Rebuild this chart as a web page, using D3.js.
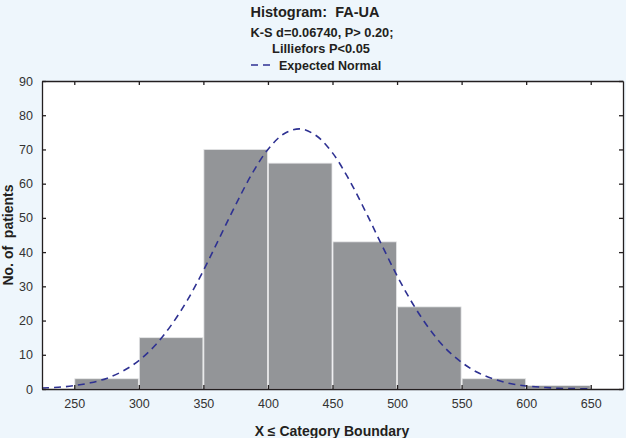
<!DOCTYPE html>
<html lang="en">
<head>
  <meta charset="utf-8">
  <title>Histogram: FA-UA</title>
  <script src="https://d3js.org/d3.v7.min.js"></script>
  <style>
    body { margin: 0; background: #eef6fc; }
    svg { display: block; font-family: "Liberation Sans", Arial, sans-serif; }
  </style>
</head>
<body>
<div id="chart"></div>
<script>
// bin edges (X <= category boundary) and counts
var binStart = [250, 300, 350, 400, 450, 500, 550, 600];
var binEnd   = [300, 350, 400, 450, 500, 550, 600, 650];
var counts   = [3, 15, 70, 66, 43, 24, 3, 1];

// expected normal curve
var curveX = [225, 237.5, 250, 262.5, 275, 287.5, 300, 312.5, 325, 337.5, 350, 362.5, 375, 387.5,
              400, 412.5, 425, 437.5, 450, 462.5, 475, 487.5, 500, 512.5, 525, 537.5, 550, 562.5,
              575, 587.5, 600, 612.5, 625, 637.5, 650];
var curveY = [0.3, 0.5, 1.0, 1.8, 3.1, 5.2, 8.3, 12.7, 18.6, 25.9, 34.6, 44.2, 53.8, 62.8,
              70.0, 74.6, 76.0, 74.0, 69.0, 61.4, 52.3, 42.6, 33.1, 24.7, 17.6, 11.9, 7.8, 4.8,
              2.9, 1.6, 0.9, 0.5, 0.2, 0.1, 0.05];

var xTicks = [250, 300, 350, 400, 450, 500, 550, 600, 650];
var yTicks = [0, 10, 20, 30, 40, 50, 60, 70, 80, 90];

var W = 626, H = 438;
var margin = {top: 81, right: 3, bottom: 49, left: 42};
var width = W - margin.left - margin.right,
    height = H - margin.top - margin.bottom;

var svg = d3.select("#chart").append("svg")
  .attr("width", W)
  .attr("height", H);

// titles
var ink = "#231f20";
svg.append("text").attr("x", 315).attr("y", 17).attr("text-anchor", "middle")
  .attr("font-weight", "bold").attr("font-size", 14.5).attr("fill", ink)
  .attr("xml:space", "preserve").text("Histogram:  FA-UA");
svg.append("text").attr("x", 322).attr("y", 37).attr("text-anchor", "middle")
  .attr("font-weight", "bold").attr("font-size", 12.8).attr("fill", ink)
  .text("K-S d=0.06740, P> 0.20;");
svg.append("text").attr("x", 321).attr("y", 53).attr("text-anchor", "middle")
  .attr("font-weight", "bold").attr("font-size", 12.8).attr("fill", ink)
  .text("Lilliefors P<0.05");

// legend
svg.append("line").attr("x1", 251).attr("x2", 272).attr("y1", 65).attr("y2", 65)
  .attr("stroke", "#2e3192").attr("stroke-width", 1.6).attr("stroke-dasharray", "7,5");
svg.append("text").attr("x", 279).attr("y", 69.5)
  .attr("font-weight", "bold").attr("font-size", 12.5).attr("fill", ink)
  .text("Expected Normal");

var g = svg.append("g").attr("transform", "translate(" + margin.left + "," + margin.top + ")");

var x = d3.scaleLinear().domain([225, 675]).range([0, width]);
var y = d3.scaleLinear().domain([0, 90]).range([height, 0]);

g.append("rect").attr("width", width).attr("height", height).attr("fill", "#fff");

g.append("defs").append("clipPath").attr("id", "clip")
  .append("rect").attr("width", width).attr("height", height);

// bars
g.selectAll(".bar")
  .data(counts)
  .enter().append("rect")
  .attr("class", "bar")
  .attr("x", function(d, i) { return x(binStart[i]) + 0.5; })
  .attr("width", function(d, i) { return x(binEnd[i]) - x(binStart[i]) - 1; })
  .attr("y", function(d) { return y(d); })
  .attr("height", function(d) { return height - y(d); })
  .attr("fill", "#939598")
  .attr("stroke", "#e6e7e8")
  .attr("stroke-width", 0.8);

// expected normal
var line = d3.line()
  .x(function(d, i) { return x(curveX[i]); })
  .y(function(d) { return y(d); })
  .curve(d3.curveCatmullRom);

g.append("path")
  .datum(curveY)
  .attr("clip-path", "url(#clip)")
  .attr("d", line)
  .attr("fill", "none")
  .attr("stroke", "#2e3192")
  .attr("stroke-width", 1.6)
  .attr("stroke-dasharray", "7,5");

// axes, ticks inside on all four sides
var tickColor = "#231f20";
var axBottom = g.append("g").attr("transform", "translate(0," + height + ")")
  .call(d3.axisBottom(x).tickValues(xTicks).tickSizeInner(-4).tickSizeOuter(0).tickPadding(10));
var axTop = g.append("g")
  .call(d3.axisTop(x).tickValues(xTicks).tickSizeInner(-4).tickSizeOuter(0).tickFormat(""));
var axLeft = g.append("g")
  .call(d3.axisLeft(y).tickValues(yTicks).tickSizeInner(-4).tickSizeOuter(0).tickPadding(9));
var axRight = g.append("g").attr("transform", "translate(" + width + ",0)")
  .call(d3.axisRight(y).tickValues(yTicks).tickSizeInner(-4).tickSizeOuter(0).tickFormat(""));

[axBottom, axTop, axLeft, axRight].forEach(function(a) {
  a.select(".domain").attr("stroke", tickColor).attr("stroke-width", 1.3);
  a.selectAll(".tick line").attr("stroke", tickColor).attr("stroke-width", 1.3);
  a.selectAll(".tick text").attr("fill", "#333").attr("font-size", 12.5)
    .attr("font-family", "\"Liberation Sans\", Arial, sans-serif");
});

// axis titles
svg.append("text")
  .attr("transform", "translate(13," + (margin.top + height / 2) + ") rotate(-90)")
  .attr("text-anchor", "middle").attr("font-weight", "bold").attr("font-size", 14).attr("fill", ink)
  .attr("xml:space", "preserve").text("No. of  patients");
svg.append("text").attr("x", 332).attr("y", 436).attr("text-anchor", "middle")
  .attr("font-weight", "bold").attr("font-size", 14).attr("fill", ink)
  .text("X \u2264 Category Boundary");
</script>
</body>
</html>
